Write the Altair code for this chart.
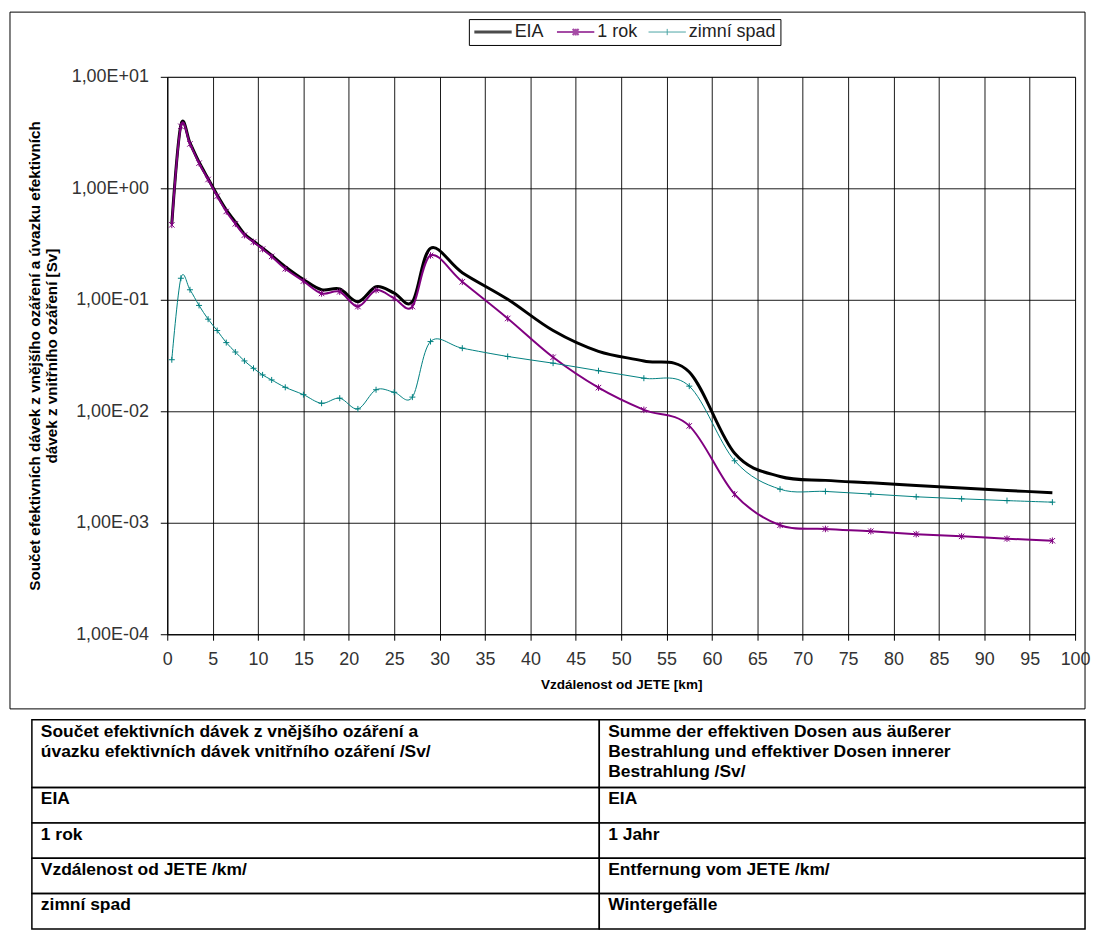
import altair as alt
import pandas as pd

# ---------------- data ----------------
series_names = ["EIA", "1 rok", "zimní spad"]
series_colors = ["#000000", "#800080", "#008080"]

dist = [0.5, 1.5, 2.5, 3.5, 4.5, 5.5, 6.5, 7.5, 8.5, 9.5, 10.5, 11.5, 13, 15, 17, 19,
        21, 23, 25, 27, 29, 32.5, 37.5, 42.5, 47.5, 52.5, 57.5, 62.5, 67.5, 72.5,
        77.5, 82.5, 87.5, 92.5, 97.5]

eia = [0.48, 3.7, 2.55, 1.72, 1.22, 0.87, 0.64, 0.5, 0.39, 0.335, 0.29, 0.25, 0.198, 0.152,
       0.123, 0.125, 0.096, 0.131, 0.115, 0.096, 0.29, 0.175, 0.101, 0.053, 0.0345, 0.0282,
       0.0225, 0.0042, 0.0026, 0.0024, 0.00228, 0.00216, 0.00205, 0.00195, 0.00186]

rok = [0.47, 3.6, 2.5, 1.68, 1.2, 0.85, 0.62, 0.48, 0.38, 0.33, 0.285, 0.245, 0.19, 0.147,
       0.114, 0.118, 0.087, 0.122, 0.103, 0.087, 0.25, 0.145, 0.068, 0.0305, 0.0163, 0.0103,
       0.0074, 0.0018, 0.00095, 0.00088, 0.00084, 0.00079, 0.000755, 0.00072, 0.00069]

zimni = [0.029, 0.156, 0.123, 0.089, 0.067, 0.053, 0.0413, 0.034, 0.0283, 0.0243, 0.0212,
         0.0191, 0.0164, 0.0141, 0.0118, 0.0131, 0.0105, 0.0156, 0.0148, 0.0134, 0.0422,
         0.0368, 0.031, 0.027, 0.0231, 0.0198, 0.0168, 0.0036, 0.002, 0.00191, 0.00181,
         0.00171, 0.00164, 0.00158, 0.00153]

x_ticks = list(range(0, 101, 5))
y_ticks = [0.0001, 0.001, 0.01, 0.1, 1, 10]
y_tick_labels = ["1,00E-04", "1,00E-03", "1,00E-02", "1,00E-01", "1,00E+00", "1,00E+01"]

y_title = ["Součet efektivních dávek z vnějšího ozáření a úvazku efektivních",
           "dávek z vnitřního ozáření [Sv]"]
x_title = "Vzdálenost od JETE [km]"

table_cs = ["Součet efektivních dávek z vnějšího ozáření a\núvazku efektivních dávek vnitřního ozáření /Sv/",
            "EIA", "1 rok", "Vzdálenost od JETE /km/", "zimní spad"]
table_de = ["Summe der effektiven Dosen aus äußerer\nBestrahlung und effektiver Dosen innerer\nBestrahlung /Sv/",
            "EIA", "1 Jahr", "Entfernung vom JETE /km/", "Wintergefälle"]

# ---------------- frames ----------------
rows = []
for name, vals in zip(series_names, [eia, rok, zimni]):
    for x, v in zip(dist, vals):
        rows.append({"series": name, "dist": x, "value": v})
df = pd.DataFrame(rows)

SANS = "Liberation Sans, Arial, sans-serif"

PW, PH = 912, 560  # plot area

color_scale = alt.Scale(domain=series_names, range=series_colors)

star = "M-1,-1L1,1M-1,1L1,-1M0,-1.2V1.2"
plus = "M-1.1,0H1.1M0,-1.1V1.1"

# legend glyphs: a line segment with the series' marker in its middle
leg_line = "M-1,0H4"
leg_star = "M-1,0H4M1.1,-0.4L1.9,0.4M1.1,0.4L1.9,-0.4M1.5,-0.45V0.45"
leg_plus = "M-1,0H4M1.5,-0.42V0.42"


def make_legend():
    return alt.Legend(title=None, orient="none", legendX=303, legendY=-58,
                      direction="horizontal", labelFont=SANS, labelFontSize=18,
                      labelColor="#222", symbolSize=225, labelOffset=24,
                      columnPadding=8, padding=4, strokeColor="#000", fillColor="#fff")


label_expr = "%s[round(log(datum.value) / LN10) + 4]" % (
    "[" + ",".join("'%s'" % s for s in y_tick_labels) + "]")

x_enc = alt.X("dist:Q",
              scale=alt.Scale(domain=[0, 100], nice=False),
              axis=alt.Axis(values=x_ticks, format="d", title=x_title, grid=True,
                            gridColor="#000", gridOpacity=0.9, tickSize=6, tickColor="#000",
                            domainColor="#000", labelFont=SANS, labelFontSize=18,
                            labelColor="#333", labelPadding=10, labelFlush=False,
                            titleFont=SANS, titleFontSize=13.6, titleFontWeight="bold",
                            titleColor="#000", titlePadding=10))
y_enc = alt.Y("value:Q",
              scale=alt.Scale(type="log", domain=[0.0001, 10], nice=False),
              axis=alt.Axis(values=y_ticks, labelExpr=label_expr, title=y_title, grid=True,
                            gridColor="#000", gridOpacity=0.9, tickSize=7, tickColor="#000",
                            domainColor="#000", labelFont=SANS, labelFontSize=18,
                            labelColor="#333", labelPadding=12,
                            titleFont=SANS, titleFontSize=15.3, titleFontWeight="bold",
                            titleColor="#000", titlePadding=12, titleLineHeight=17))

sw_scale = alt.Scale(domain=series_names, range=[3, 1, 1])
shape_scale = alt.Scale(domain=series_names, range=[leg_line, leg_star, leg_plus])

frame = alt.Chart(alt.Data(values=[{"k": 1}])).mark_rect(
    filled=False, color="#000", strokeWidth=1).encode(
    x=alt.value(-158), x2=alt.value(922), y=alt.value(-65), y2=alt.value(635))

lines = alt.Chart(df).mark_line(interpolate="cardinal").encode(
    x=x_enc, y=y_enc,
    color=alt.Color("series:N", scale=color_scale, legend=make_legend()),
    strokeWidth=alt.StrokeWidth("series:N", scale=sw_scale, legend=make_legend()),
    order="dist:Q",
)

# legend carrier (no rows drawn): gives the legend its line+marker symbols
legend_layer = alt.Chart(df).transform_filter("false").mark_point(filled=False).encode(
    x="dist:Q", y="value:Q",
    color=alt.Color("series:N", scale=color_scale, legend=make_legend()),
    shape=alt.Shape("series:N", scale=shape_scale, legend=make_legend()),
    strokeWidth=alt.StrokeWidth("series:N", scale=sw_scale, legend=make_legend()),
)

pts_rok = alt.Chart(df).transform_filter(alt.datum.series == "1 rok").mark_point(
    filled=False, strokeWidth=1, opacity=1, shape=star, size=30).encode(
    x="dist:Q", y="value:Q",
    color=alt.Color("series:N", scale=color_scale, legend=None))

pts_zim = alt.Chart(df).transform_filter(alt.datum.series == "zimní spad").mark_point(
    filled=False, strokeWidth=1, opacity=1, shape=plus, size=30).encode(
    x="dist:Q", y="value:Q",
    color=alt.Color("series:N", scale=color_scale, legend=None))

top = alt.layer(frame, lines, pts_rok, pts_zim, legend_layer).properties(
    width=PW, height=PH, view=alt.ViewBackground(stroke="#808080", strokeWidth=1))

# ---------------- table (coordinates relative to the plot's left edge) ----------------
col_edges = [-136, 434, 922]
text_x = [-127, 443]
row_h = [68, 35.5, 35.5, 35.5, 35.5]
cells, texts = [], []
y0 = 1
for i in range(len(table_cs)):
    y1 = y0 + row_h[i]
    for c in range(2):
        cells.append({"x0": col_edges[c], "x1": col_edges[c + 1], "y0": y0, "y1": y1})
        texts.append({"tx": text_x[c], "ty": y0 + 3,
                      "label": (table_cs if c == 0 else table_de)[i]})
    y0 = y1
TH = y0 + 2
cells_df = pd.DataFrame(cells)
texts_df = pd.DataFrame(texts)

tx_scale = alt.Scale(domain=[0, PW], range=[0, PW], nice=False, zero=False)
ty_scale = alt.Scale(domain=[0, TH], range=[0, TH], nice=False, zero=False)

tab_rect = alt.Chart(cells_df).mark_rect(filled=False, color="#000", strokeWidth=1.5).encode(
    x=alt.X("x0:Q", scale=tx_scale, axis=None), x2="x1:Q",
    y=alt.Y("y0:Q", scale=ty_scale, axis=None), y2="y1:Q")

tab_text = alt.Chart(texts_df).mark_text(
    align="left", baseline="top", font=SANS, fontSize=17.5, fontWeight="bold",
    color="#000", lineBreak="\n", lineHeight=20).encode(
    x=alt.X("tx:Q", scale=tx_scale, axis=None),
    y=alt.Y("ty:Q", scale=ty_scale, axis=None),
    text="label:N")

table = alt.layer(tab_rect, tab_text).properties(
    width=PW, height=TH, view=alt.ViewBackground(stroke="transparent"))

chart = alt.vconcat(top, table, spacing=8).properties(
    padding={"left": 1, "top": 1, "right": 0, "bottom": 0},
    background="#ffffff",
)

chart.save("out.html", embed_options={"renderer": "svg", "actions": False})
